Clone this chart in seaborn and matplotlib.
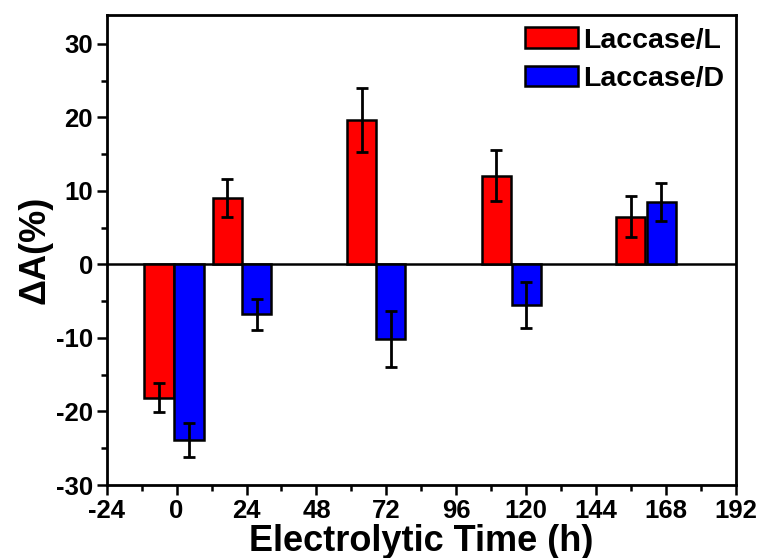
import matplotlib
matplotlib.use("Agg")
import matplotlib.pyplot as plt
import seaborn as sns
import pandas as pd
import numpy as np
from matplotlib.patches import Patch
from matplotlib.ticker import MultipleLocator

# ---- data ----
series_names = ["Laccase/L", "Laccase/D"]
series_colors = ["#FF0000", "#0000FF"]
red_x = [-6.05, 17.4, 63.55, 109.7, 155.85]      # bar centres (h)
blue_x = [4.25, 27.55, 73.55, 120.05, 166.35]
red_vals = [-18.1, 9.0, 19.7, 12.1, 6.5]
red_err = [2.0, 2.6, 4.35, 3.5, 2.76]
blue_vals = [-23.9, -6.8, -10.1, -5.5, 8.5]
blue_err = [2.35, 2.1, 3.8, 3.1, 2.6]
x_ticks = [-24, 0, 24, 48, 72, 96, 120, 144, 168, 192]
y_ticks = [-30, -20, -10, 0, 10, 20, 30]

df = pd.DataFrame({
    "x": red_x + blue_x,
    "val": red_vals + blue_vals,
    "err": red_err + blue_err,
    "series": [series_names[0]] * len(red_x) + [series_names[1]] * len(blue_x),
})

sns.set_theme(style="ticks")
plt.rcParams["font.family"] = ["Liberation Sans", "DejaVu Sans"]
plt.rcParams["font.weight"] = "bold"
plt.rcParams["axes.unicode_minus"] = False
plt.rcParams["text.color"] = "black"
plt.rcParams["axes.labelcolor"] = "black"
plt.rcParams["xtick.color"] = "black"
plt.rcParams["ytick.color"] = "black"

fig = plt.figure(figsize=(7.63, 5.58), dpi=100)
ax = fig.add_axes([0.1398, 0.1308, 0.8248, 0.8432])

sns.barplot(data=df, x="x", y="val", hue="series", native_scale=True,
            palette=dict(zip(series_names, series_colors)), saturation=1,
            dodge=False, width=1.0, errorbar=None, edgecolor="black",
            linewidth=1.8, legend=False, ax=ax, zorder=2)

for name in series_names:
    sub = df[df["series"] == name]
    ax.errorbar(sub["x"], sub["val"], yerr=sub["err"], fmt="none",
                ecolor="black", elinewidth=2.0, capsize=4.5, capthick=2.0,
                zorder=3)

ax.axhline(0, color="black", lw=1.8, zorder=1)

ax.set_xlim(-24, 192)
ax.set_ylim(-30, 34)
ax.set_xticks(x_ticks)
ax.set_yticks(y_ticks)
ax.xaxis.set_minor_locator(MultipleLocator(12))
ax.yaxis.set_minor_locator(MultipleLocator(5))
ax.tick_params(which="major", direction="out", length=7, width=1.8,
               labelsize=18.5, pad=3, colors="black")
ax.tick_params(which="minor", direction="out", length=4, width=1.8)
for lab in ax.get_xticklabels() + ax.get_yticklabels():
    lab.set_fontweight("bold")
for sp in ax.spines.values():
    sp.set_visible(True)
    sp.set_linewidth(2.0)
    sp.set_color("black")

ax.set_xlabel("Electrolytic Time (h)", fontsize=26, fontweight="bold",
              labelpad=1, color="black")
ax.set_ylabel("\u0394A(%)", fontsize=26, fontweight="bold", labelpad=2,
              color="black")

handles = [Patch(facecolor=c, edgecolor="black", linewidth=1.8, label=n)
           for n, c in zip(series_names, series_colors)]
leg = ax.legend(handles=handles, loc="upper right", frameon=False,
                prop={"size": 20.5, "weight": "bold"}, handlelength=1.85,
                handleheight=0.75, handletextpad=0.2, labelspacing=0.42,
                borderaxespad=0.0, bbox_to_anchor=(1.0, 0.997))
for t in leg.get_texts():
    t.set_color("black")

fig.savefig("out.png", dpi=100)
